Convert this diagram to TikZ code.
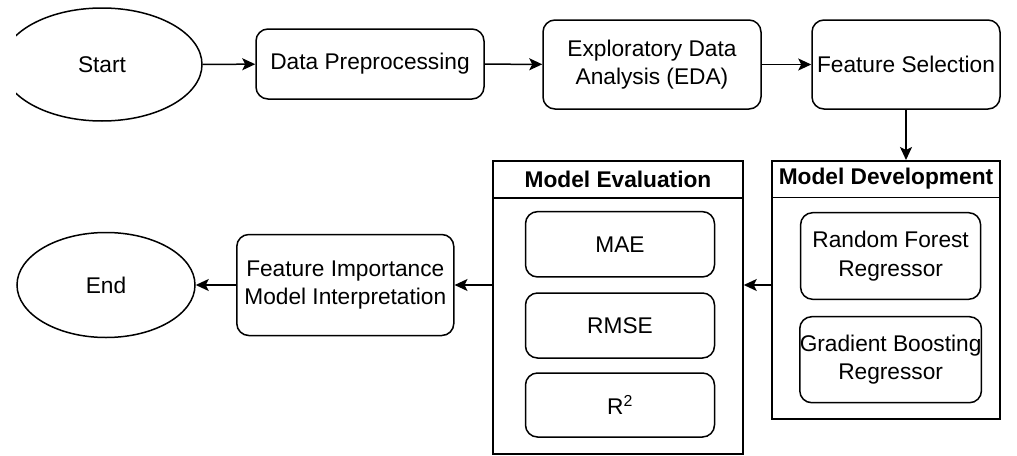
\documentclass[tikz,border=0pt]{standalone}
\usepackage{fontspec}
\setmainfont{Liberation Sans}
\usetikzlibrary{shapes.geometric,arrows.meta}

\begin{document}
\begin{tikzpicture}[x=1pt,y=-1pt,line width=1.5pt,
	every node/.style={font=\fontsize{22.7}{28.4}\selectfont, align=center},
	oval/.style={shape=ellipse, draw, inner sep=0pt},
	stage/.style={shape=rectangle, draw, rounded corners=12pt, inner sep=0pt},
	panel/.style={shape=rectangle, draw, inner sep=0pt},
	head/.style={panel, font=\fontsize{22.7}{28.4}\selectfont\bfseries},
	flow/.style={-{Stealth[length=13pt,width=12pt,inset=3pt]}}]

	\useasboundingbox (0,0) rectangle (1017,455);

	\begin{scope}
		\clip (16,0) rectangle (1017,455);
		\node (start) at (102,64.5) [oval, minimum width=200, minimum height=113] {Start};
	\end{scope}

	\node (prep) at (370,64) [stage, minimum width=228, minimum height=70] {Data Preprocessing};
	\node (eda) at (652,64.5) [stage, minimum width=218, minimum height=89] {Exploratory Data\\Analysis (EDA)};
	\node (select) at (906,64.5) [stage, minimum width=188, minimum height=89] {Feature Selection};

	\node (devhead) at (886,179) [head, minimum width=228, minimum height=36.5] {Model Development};
	\node (devbody) at (886,308.2) [panel, minimum width=228, minimum height=221.5] {};
	\node (rf) at (890.6,256) [stage, minimum width=180, minimum height=86.6] {Random Forest\\Regressor};
	\node (gb) at (890.6,359.7) [stage, minimum width=180, minimum height=86] {Gradient Boosting\\Regressor};

	\node (evalhead) at (618,179.5) [head, minimum width=250, minimum height=37] {Model Evaluation};
	\node (evalbody) at (618,326) [panel, minimum width=250, minimum height=256] {};
	\node (mae) at (620,244.3) [stage, minimum width=189, minimum height=65.3] {MAE};
	\node (rmse) at (620,325.5) [stage, minimum width=189, minimum height=65] {RMSE};
	\node (rsq) at (620,405) [stage, minimum width=189, minimum height=64] {R\textsuperscript{2}};

	\node (fi) at (345.3,285) [stage, minimum width=217, minimum height=101] {Feature Importance\\Model Interpretation};
	\node (end) at (106,285) [oval, minimum width=178, minimum height=105] {End};

	\path 	[flow]	(start)	edge	(prep)
			(prep)	edge	(eda)
			(eda)	edge	(select)
			(select.south)	edge	(select.south |- devhead.north)
			(devbody.west |- fi)	edge	(evalbody.east |- fi)
			(evalbody.west |- fi)	edge	(fi)
			(fi)	edge	(end);
\end{tikzpicture}
\end{document}
